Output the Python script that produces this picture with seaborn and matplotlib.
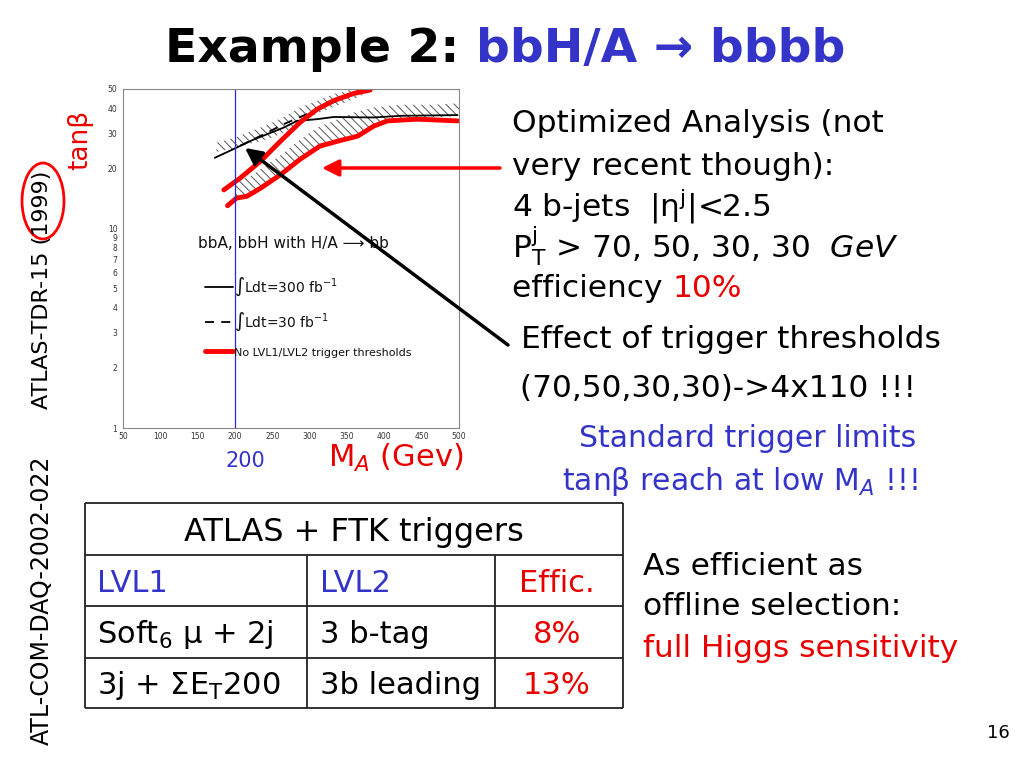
import matplotlib
matplotlib.use("Agg")
import pandas as pd
import matplotlib.pyplot as plt
import seaborn as sns
from matplotlib.lines import Line2D
from matplotlib.patches import Ellipse
from matplotlib.ticker import NullLocator

# tan(beta) reach curves (M_A in GeV)
m_solid = [173, 200, 225, 265, 283, 310, 332, 386, 422, 498]
tb_solid = [22.6, 25.2, 27.9, 32.0, 34.6, 35.3, 36.2, 36.0, 36.7, 37.0]

m_dashed = [207, 243, 265, 296, 332, 359, 386]
tb_dashed = [26.0, 30.2, 33.3, 37.4, 42.9, 47.2, 50.6]

m_red_hi = [185, 207, 234, 261, 287, 310, 332, 359, 381]
tb_red_hi = [15.6, 17.9, 21.7, 27.4, 34.0, 39.6, 43.7, 47.5, 49.4]

m_red_lo = [190, 202, 216, 234, 261, 287, 314, 341, 364, 386, 404, 444, 498]
tb_red_lo = [13.0, 14.2, 14.5, 15.9, 18.6, 22.2, 25.9, 27.6, 29.0, 32.6, 34.6, 35.3, 34.6]

# hatched bands (excluded side of the curves)
m_band_a = [175, 200, 220, 243, 265, 287, 310, 332, 359, 386]
band_a_lo = [24.2, 25.2, 26.6, 27.9, 30.2, 33.9, 37.7, 40.7, 44.5, 49.4]
band_a_hi = [26.9, 28.5, 30.6, 33.0, 36.2, 40.4, 43.6, 47.2, 50.0, 50.0]
m_band_b = [200, 220, 243, 265, 287, 310, 332, 359, 386, 422, 466, 500]
band_b_lo = [14.5, 14.8, 16.3, 18.6, 22.2, 25.3, 27.4, 28.5, 32.6, 35.3, 36.0, 36.6]
band_b_hi = [17.2, 18.2, 20.9, 23.9, 27.9, 32.0, 34.6, 38.1, 40.4, 41.7, 41.7, 42.4]

x_ticks = [50, 100, 150, 200, 250, 300, 350, 400, 450, 500]
y_ticks = [1, 2, 3, 4, 5, 6, 7, 8, 9, 10, 20, 30, 40, 50]
legend_labels = ["\u222bLdt=300 fb$^{-1}$", "\u222bLdt=30 fb$^{-1}$",
                 "No LVL1/LVL2 trigger thresholds"]

# trigger table
table_title = "ATLAS + FTK triggers"
table_rows = [["LVL1", "LVL2", "Effic."],
              ["Soft$_6$ \u03bc + 2j", "3 b-tag", "8%"],
              ["3j + \u03a3E$_T$200", "3b leading", "13%"]]

BLUE = "#3434c8"
RED = "#e80000"

sns.set_style("white")
plt.rcParams["font.family"] = ["DejaVu Sans"]
plt.rcParams["text.color"] = "black"
plt.rcParams["mathtext.default"] = "regular"
plt.rcParams["hatch.linewidth"] = 0.7
plt.rcParams["hatch.color"] = "#555555"

fig = plt.figure(figsize=(10.24, 7.68), dpi=100)
fig.patch.set_facecolor("white")

# ---- the physics plot
ax = fig.add_axes([123 / 1024, 1 - 428 / 768, 336 / 1024, 339 / 768])
ax.set_yscale("log")
ax.set_xlim(50, 500)
ax.set_ylim(1, 50)

ax.fill_between(m_band_a, band_a_lo, band_a_hi, facecolor="none",
                edgecolor="#555555", hatch="\\\\\\\\", linewidth=0)
ax.fill_between(m_band_b, band_b_lo, band_b_hi, facecolor="none",
                edgecolor="#555555", hatch="\\\\\\\\", linewidth=0)

sns.lineplot(x=m_solid, y=tb_solid, ax=ax, color="black", lw=1.3, sort=False)
sns.lineplot(x=m_dashed, y=tb_dashed, ax=ax, color="black", lw=1.3, sort=False,
             dashes=False, linestyle=(0, (5, 4)))
sns.lineplot(x=m_red_hi, y=tb_red_hi, ax=ax, color="red", lw=3.5, sort=False,
             solid_capstyle="round")
sns.lineplot(x=m_red_lo, y=tb_red_lo, ax=ax, color="red", lw=3.5, sort=False,
             solid_capstyle="round")
ax.axvline(200, color="#2a2ad0", lw=0.9)

ax.set_xticks(x_ticks)
ax.set_xticklabels([str(v) for v in x_ticks])
ax.set_xticks(range(50, 501, 10), minor=True)
ax.set_yticks(y_ticks)
ax.set_yticklabels([str(v) for v in y_ticks])
ax.yaxis.set_minor_locator(NullLocator())
ax.tick_params(axis="both", which="both", direction="in", labelsize=5.5,
               colors="#333333")
ax.tick_params(axis="x", which="both", pad=3)
ax.tick_params(axis="y", which="both", pad=4)
ax.tick_params(axis="both", which="major", length=4, width=0.6)
ax.tick_params(axis="x", which="minor", length=2, width=0.5)
for sp in ax.spines.values():
    sp.set_color("#888888")
    sp.set_linewidth(0.8)
ax.set_xlabel("")
ax.set_ylabel("")

ax.text(151, 8.4, "bbA, bbH with H/A \u27f6 bb", fontsize=11, va="center",
        color="#111111")
handles = [Line2D([], [], color="black", lw=1.3),
           Line2D([], [], color="black", lw=1.3, linestyle=(0, (5, 4))),
           Line2D([], [], color="red", lw=3.5)]
leg = ax.legend(handles, legend_labels, loc="upper left",
                bbox_to_anchor=(0.244, 0.45), frameon=False, fontsize=10,
                handlelength=2.0, handletextpad=0.1, borderpad=0,
                borderaxespad=0, labelspacing=0.95)
for txt in leg.get_texts():
    txt.set_color("#111111")
leg.get_texts()[2].set_fontsize(8)

# ---- slide overlay in pixel coordinates
ov = fig.add_axes([0, 0, 1, 1], zorder=5)
ov.set_xlim(0, 1024)
ov.set_ylim(768, 0)
ov.axis("off")

t = ov.text(165, 62, "Example 2: ", fontsize=34, fontweight="bold",
            va="baseline", ha="left")
ov.annotate("bbH/A \u2192 bbbb", xy=(1, 0), xycoords=t, fontsize=34,
            fontweight="bold", color=BLUE, va="bottom", ha="left")

ov.text(42, 290, "ATLAS-TDR-15 (1999)", rotation=90, fontsize=16,
        ha="center", va="center")
ov.add_patch(Ellipse((43, 201), 42, 76, fill=False, ec="red", lw=2))
ov.text(80, 140, "tan\u03b2", rotation=90, fontsize=19, color=RED,
        ha="center", va="center")
ov.text(42, 600, "ATL-COM-DAQ-2002-022", rotation=90, fontsize=17,
        ha="center", va="center")

ov.text(245, 467, "200", fontsize=15, color=BLUE, ha="center", va="baseline")
ov.text(328, 467, "M$_{\\mathit{A}}$ (Gev)", fontsize=22, color=RED,
        ha="left", va="baseline")

fs = 22.5
ov.text(512, 132, "Optimized Analysis (not", fontsize=fs, va="baseline")
ov.text(512, 175, "very recent though):", fontsize=fs, va="baseline")
ov.text(512, 217, "4 b-jets  |$\\eta^j$|<2.5", fontsize=fs, va="baseline")
ov.text(512, 258, "$P_T^j$ > 70, 50, 30, 30  $\\mathit{GeV}$", fontsize=fs,
        va="baseline")
t = ov.text(512, 297, "efficiency ", fontsize=fs, va="baseline")
ov.annotate("10%", xy=(1, 0), xycoords=t, fontsize=fs, color=RED,
            va="bottom", ha="left")

ov.text(521, 348, "Effect of trigger thresholds", fontsize=fs, va="baseline")
ov.text(520, 397, "(70,50,30,30)->4x110 !!!", fontsize=fs, va="baseline")
ov.text(748, 447, "Standard trigger limits", fontsize=21.5, color=BLUE,
        ha="center", va="baseline")
ov.text(740, 490, "tan\u03b2 reach at low M$_{\\mathit{A}}$ !!!", fontsize=21.5,
        color=BLUE, ha="center", va="baseline")

ov.text(643, 575, "As efficient as", fontsize=fs, va="baseline")
ov.text(643, 615, "offline selection:", fontsize=fs, va="baseline")
ov.text(643, 657, "full Higgs sensitivity", fontsize=fs, color=RED,
        va="baseline")
ov.text(998, 738, "16", fontsize=13, ha="center", va="baseline")

ov.annotate("", xy=(322, 168), xytext=(500, 168),
            arrowprops=dict(arrowstyle="-|>", color="red", lw=2.5,
                            mutation_scale=25, shrinkA=0, shrinkB=0))
ov.annotate("", xy=(245, 148), xytext=(508, 345),
            arrowprops=dict(arrowstyle="-|>", color="black", lw=2.5,
                            mutation_scale=25, shrinkA=0, shrinkB=0))

# table grid
ov.hlines([503, 555, 606, 658, 708], 85, 623, color="#222222", lw=1.3)
ov.vlines([85, 623], 503, 708, color="#222222", lw=1.3)
ov.vlines([307, 495], 555, 708, color="#222222", lw=1.3)
tfs = 22
ov.text(354, 541, table_title, fontsize=23, ha="center", va="baseline")
row_y = [592, 643, 694]
for i, row in enumerate(table_rows):
    c1 = BLUE if i == 0 else "black"
    ov.text(97, row_y[i], row[0], fontsize=tfs, color=c1, va="baseline")
    ov.text(320, row_y[i], row[1], fontsize=tfs, color=c1, va="baseline")
    ov.text(557, row_y[i], row[2], fontsize=tfs, color=RED, ha="center",
            va="baseline")

fig.savefig("out.png", dpi=100)
